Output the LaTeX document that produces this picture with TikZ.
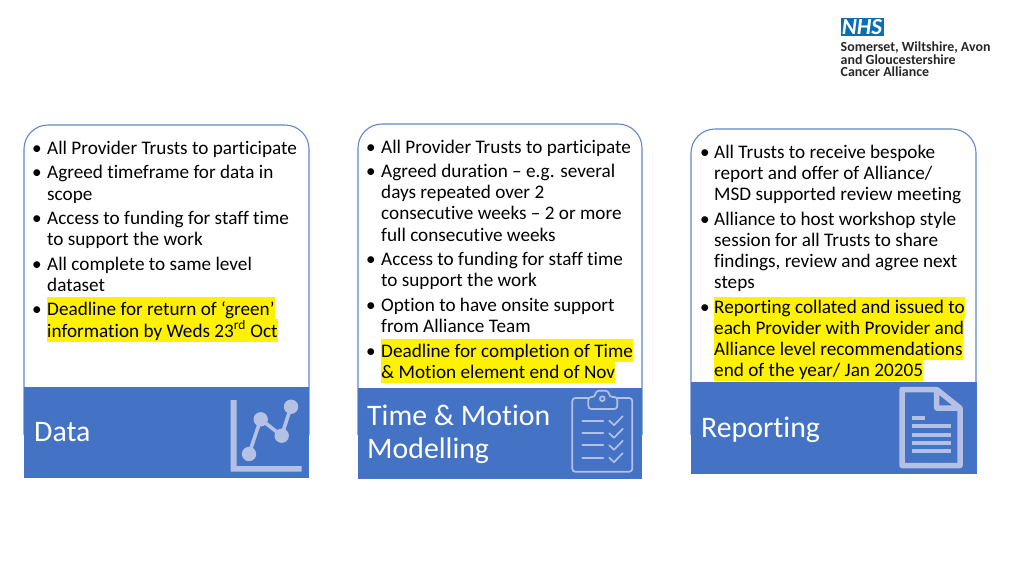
\documentclass[tikz,border=0pt]{standalone}
\usepackage{fontspec}
\setmainfont{Carlito}[Ligatures=CommonOff]
\definecolor{bandblue}{HTML}{4472C4}
\definecolor{iconblue}{HTML}{B4C1E4}
\definecolor{nhsblue}{HTML}{0A6EB4}
\tikzset{
    card/.style={draw=bandblue!85, line width=1.1pt, fill=white},
    band/.style={fill=bandblue},
    bodytext/.style={anchor=base west, inner sep=0, text=black, font=\fontsize{19.2}{21}\selectfont},
    bulletmark/.style={bodytext, anchor=base},
    marked/.style={bodytext, fill=yellow, text height=18pt, text depth=5pt},
    bandtext/.style={anchor=base west, inner sep=0, text=white, font=\fontsize{29.8}{33}\selectfont},
    logotext/.style={anchor=west, inner sep=0, text=black!85, font=\fontsize{13.9}{14}\bfseries\selectfont},
    iconline/.style={draw=iconblue, line width=1.7pt, line cap=round, line join=round}
}
\begin{document}
\begin{tikzpicture}[x=1pt,y=-1pt]
    \useasboundingbox (0,0) rectangle (1024,576);
    % Logo
    \fill[nhsblue] (840.7,18.3) rectangle (883.5,36);
    \node[anchor=center, inner sep=0, text=white, font=\fontsize{23}{23}\bfseries\itshape\selectfont] (nhs) at (862,27.2) {NHS};
    \node[logotext] (logoa) at (840.5,47.5) {Somerset, Wiltshire, Avon};
    \node[logotext] (logob) at (840.5,59.3) {and Gloucestershire};
    \node[logotext] (logoc) at (840.5,71.3) {Cancer Alliance};
    % Data
    \draw[card] (24,435) -- (24,149) [rounded corners=24pt] -- (24,125) -- (309,125) [sharp corners] -- (309,149) -- (309,435);
    \fill[band] (24,387) rectangle (309,477.5);
    \foreach \y/\txt in {154/All Provider Trusts to participate,178/Agreed timeframe for data in,200/scope,224/Access to funding for staff time,245/to support the work,270/All complete to same level,291/dataset}
        \node[bodytext] (data\y) at (47,\y) {\txt};
    \node[marked] (data337) at (47,337) {information by Weds 23\textsuperscript{rd} Oct};
    \node[marked] (data315) at (47,315) {Deadline for return of ‘green’};
    \foreach \y in {154,178,224,270,315}
        \node[bulletmark] (datamark\y) at (37,\y) {•};
    \node[bandtext] (datatitle) at (34,441) {Data};
    % Chart icon
    \fill[iconblue] (230.7,400) -- (236.7,400) -- (236.7,466) -- (301.7,466) -- (301.7,471.7) -- (230.7,471.7) -- cycle;
    \draw[iconblue, line width=3.6pt] (249,454) -- (260.7,419.3) -- (281.7,435.7) -- (291,406.7);
    \foreach \x/\y in {249/454,260.7/419.3,281.7/435.7,291/406.7}
        \fill[iconblue] (\x,\y) circle (7.2pt);
    % Time and motion
    \draw[card] (358,435) -- (358,148) [rounded corners=24pt] -- (358,124) -- (642,124) [sharp corners] -- (642,148) -- (642,435);
    \fill[band] (358,388) rectangle (642,478.5);
    \foreach \y/\txt in {153/All Provider Trusts to participate,177/Agreed duration – e.g. several,198/days repeated over 2,219/consecutive weeks – 2 or more,241/full consecutive weeks,265/Access to funding for staff time,286/to support the work,311/Option to have onsite support,332/from Alliance Team}
        \node[bodytext] (time\y) at (381,\y) {\txt};
    \node[marked] (time378) at (381,378) {\& Motion element end of Nov};
    \node[marked] (time357) at (381,357) {Deadline for completion of Time};
    \foreach \y in {153,177,265,311,357}
        \node[bulletmark] (timemark\y) at (371,\y) {•};
    \node[bandtext] (timetitlea) at (367,425.7) {Time \& Motion};
    \node[bandtext] (timetitleb) at (367,458.5) {Modelling};
    % Clipboard icon
    \draw[iconline, rounded corners=3pt] (588.3,398) -- (572.3,398) -- (572.3,471.7) -- (632.3,471.7) -- (632.3,398) -- (617.3,398);
    \draw[iconline, rounded corners=3pt] (588.3,409) -- (588.3,397) -- (595,397) -- (596,390.7) -- (608.5,390.7) -- (609.5,397) -- (617.3,397) -- (617.3,409) -- cycle;
    \draw[iconline] (602.3,398.7) circle (2.4pt);
    \foreach \y in {420.7,433.3,445.3,457.7} {
        \draw[iconline] (582.3,\y) -- (603.3,\y);
        \draw[iconline] (609.3,\y) -- (614,\y+4.5) -- (622.7,\y-4.5);
    }
    % Reporting
    \draw[card] (691,435) -- (691,153) [rounded corners=24pt] -- (691,129) -- (976,129) [sharp corners] -- (976,153) -- (976,435);
    \fill[band] (691,382) rectangle (976.5,473.5);
    \foreach \y/\txt in {158/All Trusts to receive bespoke,179/{report and offer of Alliance/},200/MSD supported review meeting,225/Alliance to host workshop style,246/session for all Trusts to share,267/{findings, review and agree next},288/steps}
        \node[bodytext] (report\y) at (714,\y) {\txt};
    \foreach \y/\txt in {376/{end of the year/ Jan 20205},355/Alliance level recommendations,334/each Provider with Provider and,313/Reporting collated and issued to}
        \node[marked, text height=16pt] (report\y) at (714,\y) {\txt};
    \foreach \y in {158,225,313}
        \node[bulletmark] (reportmark\y) at (705,\y) {•};
    \node[bandtext] (reporttitle) at (701,437) {Reporting};
    % Document icon
    \draw[iconblue, line width=5.5pt, line join=round] (936.7,389.5) -- (902,389.5) -- (902,465.5) -- (960,465.5) -- (960,408) -- (936.7,389.5) -- (936.7,408) -- (960,408);
    \fill[iconblue] (911.7,416) rectangle (925,420);
    \foreach \y in {426.3,434.7,442.7,450.7}
        \fill[iconblue] (911.7,\y-2) rectangle (950.7,\y+2);
\end{tikzpicture}
\end{document}
